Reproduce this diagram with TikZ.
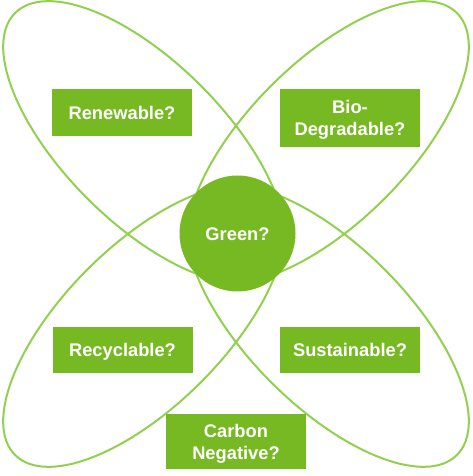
\documentclass[tikz,border=0pt]{standalone}
\usepackage{fontspec}
\setmainfont{Liberation Sans}
\definecolor{boxgreen}{RGB}{119,185,34}
\definecolor{linegreen}{RGB}{146,208,80}
\begin{document}
\begin{tikzpicture}[x=1pt,y=1pt,
  petal/.style={draw=linegreen, line width=2pt},
  qtext/.style={text=white, font=\fontsize{18.3}{22}\selectfont\bfseries, inner sep=0pt},
  qbox/.style={qtext, fill=boxgreen, draw=none, minimum width=140pt, align=center, text depth=0pt},
  oneline/.style={text height=13.2pt},
]
\useasboundingbox (0,0) rectangle (472,476);
% petals
\draw[petal, rotate around={-45:(144.1,333.9)}] (144.1,333.9) ellipse [x radius=182.5pt, y radius=80pt];
\draw[petal, rotate around={45:(327.9,333.9)}] (327.9,333.9) ellipse [x radius=182.5pt, y radius=80pt];
\draw[petal, rotate around={45:(144.1,150.1)}] (144.1,150.1) ellipse [x radius=182.5pt, y radius=80pt];
\draw[petal, rotate around={-45:(327.9,150.1)}] (327.9,150.1) ellipse [x radius=182.5pt, y radius=80pt];
% centre
\node[qtext, circle, fill=boxgreen, minimum size=116pt, text height=13.2pt, text depth=0pt] (green) at (237.5,242.5) {Green?};
% boxes
\node[qbox, oneline, minimum height=47pt] (renew) at (122,363.5) {Renewable?};
\node[qbox, minimum height=58pt] (bio) at (350,358) {Bio-\\Degradable?};
\node[qbox, oneline, minimum height=46pt] (recyc) at (122.5,126) {Recyclable?};
\node[qbox, oneline, minimum height=46pt] (sust) at (350,126) {Sustainable?};
\node[qbox, minimum height=55pt] (carbon) at (236,34.5) {Carbon\\Negative?};
\end{tikzpicture}
\end{document}
